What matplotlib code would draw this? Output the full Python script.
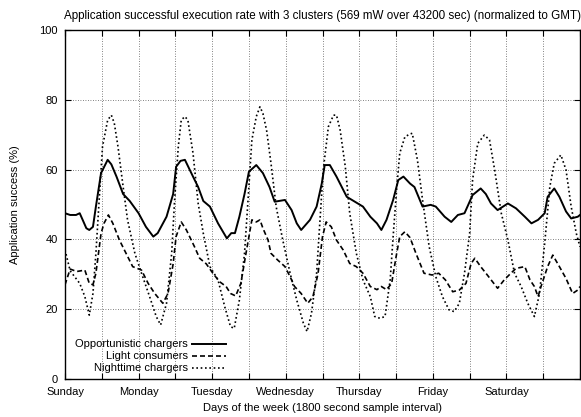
import matplotlib
matplotlib.use("Agg")
import matplotlib.pyplot as plt

# ---- data (days since Sunday 00:00 GMT, success %) ----
opp_days = [0.0, 0.07, 0.15, 0.2, 0.24, 0.29, 0.33, 0.38, 0.42, 0.49, 0.58, 0.63, 0.70, 0.79, 0.88,
            1.0, 1.1, 1.2, 1.26, 1.38, 1.47, 1.51, 1.57, 1.63, 1.74, 1.81, 1.88, 1.97,
            2.08, 2.2, 2.26, 2.31, 2.37, 2.44, 2.5, 2.6, 2.69, 2.78, 2.85, 2.99,
            3.08, 3.15, 3.21, 3.33, 3.42, 3.49, 3.53, 3.6, 3.69, 3.83, 3.94,
            4.05, 4.15, 4.24, 4.3, 4.37, 4.46, 4.53, 4.6, 4.69, 4.75, 4.86, 4.97,
            5.04, 5.16, 5.25, 5.34, 5.43, 5.54, 5.65, 5.72, 5.79, 5.88,
            6.02, 6.13, 6.25, 6.34, 6.43, 6.52, 6.56, 6.65, 6.72, 6.81, 6.88, 6.97, 7.0]
opp_vals = [47.5, 47, 47, 47.5, 45.6, 43.2, 42.7, 43.6, 49.4, 59, 62.8, 61.5, 58, 53, 51,
            47.5, 43.6, 40.8, 41.8, 46.5, 53, 60.8, 62.5, 62.8, 58, 55, 51, 49.4,
            44.6, 40.3, 41.8, 41.8, 46.5, 53, 59.4, 61.3, 59, 55, 50.8, 51.3,
            48.4, 44.6, 42.7, 45.6, 49.4, 56, 61.3, 61.3, 58, 52.2, 50.8,
            49.4, 46.5, 44.6, 42.7, 45.6, 51.3, 57, 58, 56, 55, 49.4, 49.9,
            49.4, 46.5, 45, 47, 47.5, 52.7, 54.6, 53, 50.3, 48.4,
            50.3, 48.9, 46.5, 44.6, 45.6, 47.5, 52.2, 54.6, 52.2, 48, 46, 46.5, 47]

light_days = [0.0, 0.07, 0.16, 0.27, 0.33, 0.38, 0.42, 0.49, 0.53, 0.59, 0.65, 0.74, 0.83, 0.92,
              1.04, 1.13, 1.22, 1.33, 1.4, 1.47, 1.51, 1.58, 1.65, 1.76, 1.83, 1.92,
              2.01, 2.1, 2.19, 2.25, 2.32, 2.39, 2.46, 2.54, 2.6, 2.65, 2.69, 2.76, 2.8, 2.89, 2.99,
              3.06, 3.12, 3.21, 3.3, 3.37, 3.44, 3.5, 3.55, 3.62, 3.69, 3.78, 3.87, 3.96,
              4.05, 4.15, 4.24, 4.3, 4.37, 4.44, 4.5, 4.55, 4.62, 4.69, 4.77, 4.88, 4.99,
              5.08, 5.17, 5.27, 5.36, 5.45, 5.52, 5.57, 5.65, 5.74, 5.88, 5.97,
              6.06, 6.13, 6.25, 6.32, 6.38, 6.43, 6.47, 6.56, 6.63, 6.72, 6.81, 6.9, 6.97, 7.0]
light_vals = [27, 31.5, 30.8, 31.2, 27.4, 27, 30.3, 41.7, 44.6, 47, 44.6, 39.8, 36, 32.2,
              31.2, 27.4, 24.5, 21.7, 24.5, 33, 40.8, 45, 42.7, 37.9, 34.6, 33,
              30.3, 27.9, 26.5, 24.5, 23.8, 27.4, 36, 45.6, 45, 45.6, 43.2, 39.8, 36, 34.1, 32.2,
              29.3, 26.5, 24.5, 21.7, 23.6, 30.3, 40.8, 45, 43.6, 39.8, 37, 33.1, 32.2,
              30.3, 26.5, 25.6, 26.5, 25.6, 27.4, 35, 40.8, 42.2, 40.5, 36, 30.3, 29.8,
              30.3, 28.4, 25, 25.5, 27.4, 33.1, 34.6, 32.2, 29.8, 26, 28.4,
              30.3, 31.7, 32.2, 28.4, 26.5, 23.6, 26.5, 32.2, 35.5, 32.2, 28.8, 24.5, 25.5, 26.5]

night_days = [0.0, 0.07, 0.2, 0.27, 0.33, 0.38, 0.42, 0.47, 0.51, 0.58, 0.63, 0.67, 0.72, 0.79, 0.85, 0.95,
              1.04, 1.15, 1.24, 1.3, 1.38, 1.45, 1.49, 1.54, 1.58, 1.63, 1.67, 1.74, 1.81, 1.88, 1.97,
              2.08, 2.17, 2.25, 2.3, 2.37, 2.44, 2.49, 2.54, 2.6, 2.65, 2.69, 2.74, 2.8, 2.87, 2.96,
              3.06, 3.15, 3.24, 3.29, 3.35, 3.42, 3.46, 3.51, 3.58, 3.65, 3.69, 3.74, 3.81, 3.87, 3.96,
              4.05, 4.15, 4.21, 4.28, 4.35, 4.42, 4.46, 4.51, 4.55, 4.62, 4.69, 4.72, 4.79, 4.86, 4.95,
              5.04, 5.13, 5.22, 5.29, 5.36, 5.43, 5.5, 5.54, 5.61, 5.7, 5.77, 5.84, 5.93,
              6.02, 6.11, 6.2, 6.29, 6.38, 6.45, 6.52, 6.59, 6.65, 6.74, 6.81, 6.88, 6.95, 7.0]
night_vals = [37, 31, 27.4, 23.6, 18.3, 24.5, 36, 53.2, 66.6, 74.2, 75.6, 73.3, 66.6, 55.1, 45.6, 36,
              30.3, 23.6, 17.9, 15.5, 21.7, 36, 51.3, 66.6, 74.2, 75.2, 74.2, 64.7, 50.3, 41.7, 32.2,
              28.4, 20.8, 15, 14.5, 22.6, 36, 52, 68.5, 75.2, 78, 76.1, 71.3, 61.8, 49.4, 39.8,
              30.3, 22.6, 16, 13.6, 18.8, 30.3, 43.6, 59.9, 72.3, 75.6, 75.6, 71.3, 60.8, 47.5, 36,
              28.4, 23.6, 17.9, 17.4, 17.9, 28.4, 40.8, 55, 64.7, 69.4, 70.2, 70.4, 62.8, 51.3, 37.9,
              29.3, 23.6, 19.8, 19.3, 21.7, 30.3, 41.7, 57, 67.5, 69.9, 68.5, 59.9, 47.5,
              39.8, 30.3, 26.5, 21.7, 17.9, 24.5, 38.9, 55.1, 61.8, 64.2, 59.9, 49.4, 41.7, 37.9]

day_labels = ["Sunday", "Monday", "Tuesday", "Wednesday", "Thursday", "Friday", "Saturday"]
series_labels = ["Opportunistic chargers", "Light consumers", "Nighttime chargers"]
y_ticks = [0, 20, 40, 60, 80, 100]

# ---- figure ----
plt.rcParams['font.family'] = ['Liberation Sans', 'DejaVu Sans']
FS = 8
fig = plt.figure(figsize=(5.81, 4.17), dpi=100)
ax = fig.add_axes([65 / 581, 1 - 379 / 417, 515 / 581, 349 / 417])

styles = [dict(ls='-', lw=1.4),
          dict(ls=(0, (3, 1.8)), lw=1.2),
          dict(ls=(0, (1, 1.6)), lw=1.2)]
data = [(opp_days, opp_vals), (light_days, light_vals), (night_days, night_vals)]
for (xd, yd), st in zip(data, styles):
    ax.plot(xd, yd, color='black', **st)

ax.set_xlim(0, 7)
ax.set_ylim(0, 100)
ax.set_xticks([i * 0.5 for i in range(15)])
ax.set_xticklabels([day_labels[i // 2] if (i % 2 == 0 and i // 2 < 7) else "" for i in range(15)])
ax.set_yticks(y_ticks)
ax.set_yticklabels([str(v) for v in y_ticks])
ax.tick_params(direction='in', length=4, width=0.8, top=True, right=True, labelsize=FS)
ax.tick_params(axis='x', pad=6)
ax.tick_params(axis='y', pad=5)
ax.grid(True, color='0.35', ls=(0, (1, 2)), lw=0.6)
for s in ax.spines.values():
    s.set_linewidth(1.0)

ax.set_title("Application successful execution rate with 3 clusters (569 mW over 43200 sec) (normalized to GMT)",
             fontsize=8.4, pad=8)
ax.set_xlabel("Days of the week (1800 second sample interval)", fontsize=FS, labelpad=4)
ax.set_ylabel("Application success (%)", fontsize=FS, labelpad=14)

# legend (gnuplot style: right-aligned text, sample to the right)
row_y = [0.100, 0.066, 0.032]
for lab, st, yy in zip(series_labels, styles, row_y):
    ax.text(0.239, yy, lab, transform=ax.transAxes, ha='right', va='center', fontsize=FS)
    ax.plot([0.247, 0.313], [yy, yy], transform=ax.transAxes, color='black', **st)

fig.savefig("out.png", dpi=100)
